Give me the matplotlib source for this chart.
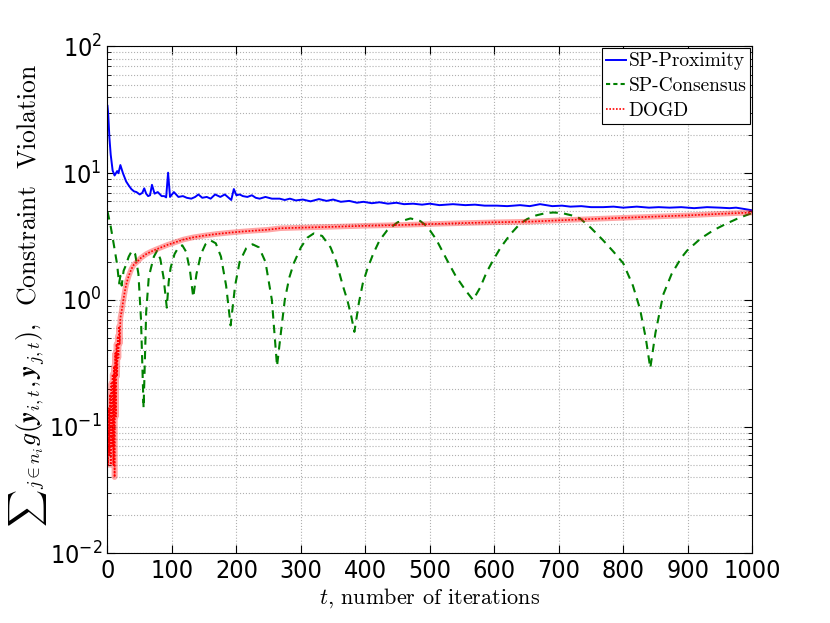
import matplotlib
matplotlib.use("Agg")
import matplotlib.pyplot as plt
from matplotlib.ticker import LogLocator, NullFormatter
from matplotlib.lines import Line2D

plt.rcParams['mathtext.fontset'] = 'cm'

# SP-Proximity (blue, solid)
t_prox = [0, 1, 2, 3, 5, 8, 11, 15, 17, 20, 24, 29, 33, 37, 41, 45, 50, 54, 57, 60,
          63, 66, 69, 73, 78, 84, 88, 91, 94, 97, 103, 110, 117, 123, 130, 136, 141,
          147, 154, 160, 167, 175, 182, 188, 192, 196, 200, 205, 210, 217, 224, 230,
          236, 245, 255, 267, 275, 283, 292, 303, 315, 328, 340, 350, 362, 375, 387,
          397, 410, 422, 435, 448, 460, 474, 488, 500, 515, 536, 555, 570, 585, 604,
          620, 640, 655, 671, 690, 705, 718, 735, 750, 769, 785, 800, 821, 840, 855,
          872, 890, 910, 930, 950, 965, 975, 990, 1000]
v_prox = [34, 30, 24, 19, 14, 10.5, 9.6, 10.4, 10.0, 11.6, 10.0, 8.6, 8.0, 7.5, 7.2,
          7.1, 6.8, 7.0, 7.6, 6.9, 6.6, 6.7, 8.1, 6.9, 7.1, 6.6, 6.6, 6.45, 10.1, 6.5,
          7.1, 6.5, 6.6, 6.4, 6.3, 6.5, 6.8, 6.4, 6.5, 6.3, 6.8, 6.5, 6.8, 6.4, 6.15,
          7.5, 6.7, 6.8, 6.6, 6.5, 6.7, 6.4, 6.3, 6.5, 6.3, 6.3, 6.15, 6.3, 6.1, 6.2,
          6.0, 6.25, 6.05, 6.2, 5.95, 6.05, 5.85, 5.95, 5.8, 5.9, 5.75, 5.85, 5.7,
          5.75, 5.65, 5.75, 5.6, 5.7, 5.6, 5.65, 5.55, 5.55, 5.5, 5.6, 5.5, 5.7, 5.5,
          5.55, 5.45, 5.5, 5.4, 5.4, 5.45, 5.35, 5.45, 5.35, 5.4, 5.35, 5.4, 5.3, 5.4,
          5.35, 5.3, 5.35, 5.2, 5.1]

# SP-Consensus (green, dashed)
t_cons = [0, 5, 10, 15, 18, 20, 22, 25, 28, 33, 38, 43, 48, 52, 56, 60, 64, 67, 72,
          77, 82, 87, 92, 95, 98, 104, 110, 116, 122, 128, 133, 138, 145, 152, 160,
          168, 176, 184, 191, 198, 205, 215, 225, 235, 245, 255, 263, 268, 275, 282,
          289, 300, 310, 320, 333, 346, 355, 365, 372, 378, 383, 390, 396, 403, 412,
          422, 434, 450, 470, 485, 496, 510, 527, 540, 555, 567, 578, 588, 598, 610,
          625, 640, 651, 665, 680, 692, 705, 720, 733, 750, 769, 785, 800, 815, 826,
          835, 842, 850, 862, 875, 890, 899, 920, 940, 960, 980, 1000]
v_cons = [5.0, 3.8, 2.7, 1.9, 1.35, 1.55, 1.3, 1.7, 1.85, 2.2, 2.45, 2.3, 1.6, 0.7,
          0.14, 0.8, 1.5, 1.75, 2.2, 2.45, 2.1, 1.5, 0.87, 1.4, 1.8, 2.3, 2.6, 2.7,
          2.4, 1.7, 1.05, 1.6, 2.3, 2.75, 2.95, 2.8, 2.2, 1.3, 0.63, 1.3, 2.0, 2.55,
          2.75, 2.6, 2.0, 1.0, 0.3, 0.5, 1.0, 1.5, 1.95, 2.6, 3.1, 3.35, 3.2, 2.6,
          2.0, 1.3, 1.0, 0.75, 0.56, 0.95, 1.35, 1.75, 2.3, 2.95, 3.55, 4.1, 4.4, 4.2,
          3.8, 3.0, 2.05, 1.55, 1.2, 1.0, 1.25, 1.65, 2.05, 2.6, 3.3, 4.0, 4.35, 4.65,
          4.85, 4.9, 4.85, 4.65, 4.4, 3.7, 2.95, 2.4, 1.95, 1.3, 0.85, 0.5, 0.29, 0.55,
          1.1, 1.6, 2.15, 2.45, 3.05, 3.55, 4.0, 4.45, 4.85]

# DOGD (red, dotted)
t_dogd = [0, 1, 2, 3, 4, 5, 6, 7, 8, 9, 10, 11, 12, 13, 14, 15, 16, 17, 18, 19, 20,
          22, 24, 26, 28, 30, 33, 37, 41, 46, 52, 60, 67, 75, 85, 93, 105, 118, 133,
          150, 170, 190, 210, 230, 248, 268, 299, 350, 400, 450, 500, 550, 600, 656,
          700, 750, 800, 850, 900, 950, 1000]
v_dogd = [0.10, 0.05, 0.14, 0.06, 0.18, 0.05, 0.22, 0.07, 0.26, 0.05, 0.30, 0.04,
          0.38, 0.12, 0.45, 0.25, 0.52, 0.35, 0.62, 0.45, 0.72, 0.82, 0.95, 1.1, 1.25,
          1.38, 1.55, 1.75, 1.9, 2.0, 2.15, 2.3, 2.4, 2.5, 2.62, 2.72, 2.85, 3.0, 3.12,
          3.22, 3.32, 3.4, 3.47, 3.53, 3.58, 3.68, 3.72, 3.78, 3.85, 3.9, 3.97, 4.04,
          4.1, 4.15, 4.25, 4.35, 4.45, 4.55, 4.65, 4.78, 4.9]

names = ['SP-Proximity', 'SP-Consensus', 'DOGD']
x_ticks = list(range(0, 1001, 100))

fig = plt.figure(figsize=(8.3, 6.23), dpi=100)
ax = fig.add_axes([0.1295, 0.1116, 0.9062 - 0.1295, 0.9254 - 0.1116])

ax.plot(t_prox, v_prox, color='#0000ff', lw=1.4)
ax.plot(t_cons, v_cons, color='#008000', lw=1.5, ls=(0, (4, 3)))
ax.plot(t_dogd, v_dogd, color='#ff0000', lw=4.0, alpha=0.35, solid_capstyle='butt')
ax.plot(t_dogd, v_dogd, color='#ff0000', lw=1.2, ls=(0, (1, 1)))

ax.set_yscale('log')
ax.set_ylim(1e-2, 1e2)
ax.set_xlim(0, 1000)
ax.set_xticks(x_ticks)
ax.yaxis.set_major_locator(LogLocator(base=10, numticks=10))
ax.yaxis.set_minor_locator(LogLocator(base=10, subs=range(2, 10), numticks=20))
ax.yaxis.set_minor_formatter(NullFormatter())

ax.grid(True, which='major', ls=':', color='#b0b0b0', lw=0.8)
ax.grid(True, which='minor', axis='y', ls=':', color='#b0b0b0', lw=0.8)
ax.tick_params(which='both', direction='in', top=True, right=True)
ax.tick_params(which='major', length=6, labelsize=18, pad=4)
ax.tick_params(which='minor', length=3)
for lab in ax.get_xticklabels() + ax.get_yticklabels():
    lab.set_fontfamily('DejaVu Sans')
    lab.set_fontstretch('condensed')
for sp in ax.spines.values():
    sp.set_linewidth(0.8)

ax.set_xlabel(r'$t$, number of iterations', fontfamily='cmr10', fontsize=16)
ax.xaxis.set_label_coords(0.5, -0.065)
ax.set_ylabel(r'${\sum}_{j\in n_i} g(\boldsymbol{y}_{i,t}, \boldsymbol{y}_{j,t})$,  Constraint  Violation',
              fontfamily='cmr10', fontsize=18.5)
ax.yaxis.set_label_coords(-0.09, 0.51)

handles = [Line2D([], [], color='#0000ff', lw=1.4),
           Line2D([], [], color='#008000', lw=1.5, ls=(0, (2, 1.5))),
           Line2D([], [], color='#ff0000', lw=1.2, ls=(0, (1, 1)))]
leg = ax.legend(handles, names, loc='upper right', prop={'family': 'cmr10', 'size': 14},
                handlelength=1.0, handletextpad=0.15, labelspacing=0.35, borderpad=0.2,
                borderaxespad=0.1, fancybox=False, framealpha=1, edgecolor='black')
leg.get_frame().set_linewidth(0.8)

fig.savefig('out.png', dpi=100)
